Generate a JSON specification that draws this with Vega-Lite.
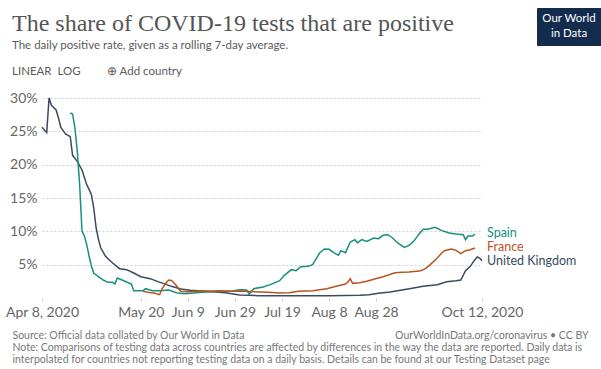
{
  "$schema": "https://vega.github.io/schema/vega-lite/v6.json",
  "width": 440,
  "height": 200,
  "autosize": {"type": "none"},
  "padding": {"left": 42, "top": 98, "right": 119, "bottom": 71},
  "background": "white",
  "title": {
    "text": "The share of COVID-19 tests that are positive",
    "subtitle": ["The daily positive rate, given as a rolling 7-day average.", "\u00a0\u00a0LINEAR\u00a0\u00a0LOG\u00a0\u00a0\u00a0\u00a0\u00a0\u00a0\u00a0\u00a0\u00a0⊕ Add country"],
    "anchor": "start",
    "frame": "group",
    "dx": -30,
    "dy": 84,
    "offset": 14,
    "font": "Liberation Serif",
    "fontSize": 24,
    "fontWeight": "normal",
    "color": "#555555",
    "subtitleFont": "Lato",
    "subtitleFontSize": 11.5,
    "subtitleColor": "#5b5b5b",
    "subtitlePadding": 4,
    "subtitleLineHeight": 26
  },
  "config": {
    "view": {"stroke": null},
    "font": "Lato"
  },
  "datasets": {
    "series": [
      {"country": "United Kingdom", "date": "2020-04-08", "value": 25.6},
      {"country": "United Kingdom", "date": "2020-04-10", "value": 24.8},
      {"country": "United Kingdom", "date": "2020-04-11", "value": 30.0},
      {"country": "United Kingdom", "date": "2020-04-12", "value": 28.9},
      {"country": "United Kingdom", "date": "2020-04-14", "value": 28.2},
      {"country": "United Kingdom", "date": "2020-04-15", "value": 27.0},
      {"country": "United Kingdom", "date": "2020-04-16", "value": 25.6},
      {"country": "United Kingdom", "date": "2020-04-18", "value": 24.6},
      {"country": "United Kingdom", "date": "2020-04-20", "value": 24.2},
      {"country": "United Kingdom", "date": "2020-04-21", "value": 21.4},
      {"country": "United Kingdom", "date": "2020-04-23", "value": 20.5},
      {"country": "United Kingdom", "date": "2020-04-25", "value": 19.2},
      {"country": "United Kingdom", "date": "2020-04-27", "value": 17.0},
      {"country": "United Kingdom", "date": "2020-04-28", "value": 16.3},
      {"country": "United Kingdom", "date": "2020-04-29", "value": 15.5},
      {"country": "United Kingdom", "date": "2020-04-30", "value": 13.5},
      {"country": "United Kingdom", "date": "2020-05-01", "value": 10.5},
      {"country": "United Kingdom", "date": "2020-05-02", "value": 8.8},
      {"country": "United Kingdom", "date": "2020-05-03", "value": 7.5},
      {"country": "United Kingdom", "date": "2020-05-05", "value": 6.25},
      {"country": "United Kingdom", "date": "2020-05-08", "value": 5.25},
      {"country": "United Kingdom", "date": "2020-05-11", "value": 4.4},
      {"country": "United Kingdom", "date": "2020-05-14", "value": 4.25},
      {"country": "United Kingdom", "date": "2020-05-17", "value": 3.75},
      {"country": "United Kingdom", "date": "2020-05-20", "value": 3.2},
      {"country": "United Kingdom", "date": "2020-05-24", "value": 2.9},
      {"country": "United Kingdom", "date": "2020-05-27", "value": 2.5},
      {"country": "United Kingdom", "date": "2020-05-31", "value": 2.0},
      {"country": "United Kingdom", "date": "2020-06-02", "value": 1.75},
      {"country": "United Kingdom", "date": "2020-06-06", "value": 1.35},
      {"country": "United Kingdom", "date": "2020-06-10", "value": 1.15},
      {"country": "United Kingdom", "date": "2020-06-17", "value": 1.0},
      {"country": "United Kingdom", "date": "2020-06-25", "value": 0.8},
      {"country": "United Kingdom", "date": "2020-07-01", "value": 0.45},
      {"country": "United Kingdom", "date": "2020-07-09", "value": 0.35},
      {"country": "United Kingdom", "date": "2020-07-27", "value": 0.35},
      {"country": "United Kingdom", "date": "2020-08-08", "value": 0.35},
      {"country": "United Kingdom", "date": "2020-08-21", "value": 0.4},
      {"country": "United Kingdom", "date": "2020-08-25", "value": 0.5},
      {"country": "United Kingdom", "date": "2020-08-29", "value": 0.7},
      {"country": "United Kingdom", "date": "2020-09-03", "value": 0.9},
      {"country": "United Kingdom", "date": "2020-09-08", "value": 1.2},
      {"country": "United Kingdom", "date": "2020-09-13", "value": 1.5},
      {"country": "United Kingdom", "date": "2020-09-17", "value": 1.75},
      {"country": "United Kingdom", "date": "2020-09-23", "value": 2.0},
      {"country": "United Kingdom", "date": "2020-09-27", "value": 2.45},
      {"country": "United Kingdom", "date": "2020-10-01", "value": 2.6},
      {"country": "United Kingdom", "date": "2020-10-03", "value": 2.7},
      {"country": "United Kingdom", "date": "2020-10-05", "value": 4.1},
      {"country": "United Kingdom", "date": "2020-10-07", "value": 4.75},
      {"country": "United Kingdom", "date": "2020-10-09", "value": 5.75},
      {"country": "United Kingdom", "date": "2020-10-10", "value": 6.15},
      {"country": "United Kingdom", "date": "2020-10-11", "value": 6.0},
      {"country": "United Kingdom", "date": "2020-10-12", "value": 5.6},
      {"country": "Spain", "date": "2020-04-20", "value": 27.75},
      {"country": "Spain", "date": "2020-04-21", "value": 27.6},
      {"country": "Spain", "date": "2020-04-22", "value": 25.5},
      {"country": "Spain", "date": "2020-04-23", "value": 22.0},
      {"country": "Spain", "date": "2020-04-24", "value": 17.0},
      {"country": "Spain", "date": "2020-04-25", "value": 10.0},
      {"country": "Spain", "date": "2020-04-26", "value": 9.3},
      {"country": "Spain", "date": "2020-04-27", "value": 8.0},
      {"country": "Spain", "date": "2020-04-28", "value": 6.3},
      {"country": "Spain", "date": "2020-04-29", "value": 4.8},
      {"country": "Spain", "date": "2020-04-30", "value": 3.7},
      {"country": "Spain", "date": "2020-05-02", "value": 3.2},
      {"country": "Spain", "date": "2020-05-04", "value": 2.7},
      {"country": "Spain", "date": "2020-05-06", "value": 2.35},
      {"country": "Spain", "date": "2020-05-08", "value": 2.35},
      {"country": "Spain", "date": "2020-05-09", "value": 2.1},
      {"country": "Spain", "date": "2020-05-10", "value": 3.0},
      {"country": "Spain", "date": "2020-05-12", "value": 2.7},
      {"country": "Spain", "date": "2020-05-14", "value": 2.4},
      {"country": "Spain", "date": "2020-05-16", "value": 2.1},
      {"country": "Spain", "date": "2020-05-17", "value": 1.1},
      {"country": "Spain", "date": "2020-05-21", "value": 1.1},
      {"country": "Spain", "date": "2020-05-22", "value": 1.4},
      {"country": "Spain", "date": "2020-05-25", "value": 1.1},
      {"country": "Spain", "date": "2020-05-28", "value": 1.1},
      {"country": "Spain", "date": "2020-06-01", "value": 1.2},
      {"country": "Spain", "date": "2020-06-04", "value": 0.8},
      {"country": "Spain", "date": "2020-06-08", "value": 0.65},
      {"country": "Spain", "date": "2020-06-11", "value": 0.75},
      {"country": "Spain", "date": "2020-06-17", "value": 0.9},
      {"country": "Spain", "date": "2020-06-23", "value": 1.0},
      {"country": "Spain", "date": "2020-06-28", "value": 1.05},
      {"country": "Spain", "date": "2020-07-01", "value": 1.25},
      {"country": "Spain", "date": "2020-07-04", "value": 1.2},
      {"country": "Spain", "date": "2020-07-05", "value": 0.6},
      {"country": "Spain", "date": "2020-07-07", "value": 1.4},
      {"country": "Spain", "date": "2020-07-11", "value": 1.65},
      {"country": "Spain", "date": "2020-07-14", "value": 2.0},
      {"country": "Spain", "date": "2020-07-18", "value": 2.6},
      {"country": "Spain", "date": "2020-07-20", "value": 3.4},
      {"country": "Spain", "date": "2020-07-23", "value": 4.25},
      {"country": "Spain", "date": "2020-07-25", "value": 4.1},
      {"country": "Spain", "date": "2020-07-27", "value": 4.7},
      {"country": "Spain", "date": "2020-07-30", "value": 4.75},
      {"country": "Spain", "date": "2020-08-01", "value": 5.0},
      {"country": "Spain", "date": "2020-08-04", "value": 6.75},
      {"country": "Spain", "date": "2020-08-06", "value": 7.35},
      {"country": "Spain", "date": "2020-08-08", "value": 7.3},
      {"country": "Spain", "date": "2020-08-10", "value": 6.8},
      {"country": "Spain", "date": "2020-08-12", "value": 6.4},
      {"country": "Spain", "date": "2020-08-13", "value": 7.1},
      {"country": "Spain", "date": "2020-08-15", "value": 6.8},
      {"country": "Spain", "date": "2020-08-17", "value": 8.4},
      {"country": "Spain", "date": "2020-08-19", "value": 8.75},
      {"country": "Spain", "date": "2020-08-20", "value": 8.3},
      {"country": "Spain", "date": "2020-08-22", "value": 8.75},
      {"country": "Spain", "date": "2020-08-24", "value": 8.5},
      {"country": "Spain", "date": "2020-08-27", "value": 9.0},
      {"country": "Spain", "date": "2020-08-29", "value": 8.9},
      {"country": "Spain", "date": "2020-08-31", "value": 9.4},
      {"country": "Spain", "date": "2020-09-02", "value": 9.5},
      {"country": "Spain", "date": "2020-09-04", "value": 9.0},
      {"country": "Spain", "date": "2020-09-06", "value": 8.3},
      {"country": "Spain", "date": "2020-09-09", "value": 7.6},
      {"country": "Spain", "date": "2020-09-11", "value": 7.9},
      {"country": "Spain", "date": "2020-09-13", "value": 8.5},
      {"country": "Spain", "date": "2020-09-15", "value": 9.5},
      {"country": "Spain", "date": "2020-09-17", "value": 10.3},
      {"country": "Spain", "date": "2020-09-19", "value": 10.3},
      {"country": "Spain", "date": "2020-09-22", "value": 10.6},
      {"country": "Spain", "date": "2020-09-25", "value": 10.1},
      {"country": "Spain", "date": "2020-09-28", "value": 9.75},
      {"country": "Spain", "date": "2020-10-01", "value": 9.6},
      {"country": "Spain", "date": "2020-10-04", "value": 9.5},
      {"country": "Spain", "date": "2020-10-05", "value": 8.75},
      {"country": "Spain", "date": "2020-10-06", "value": 9.3},
      {"country": "Spain", "date": "2020-10-08", "value": 9.3},
      {"country": "Spain", "date": "2020-10-09", "value": 9.6},
      {"country": "France", "date": "2020-05-21", "value": 1.0},
      {"country": "France", "date": "2020-05-23", "value": 0.85},
      {"country": "France", "date": "2020-05-26", "value": 0.7},
      {"country": "France", "date": "2020-05-28", "value": 0.5},
      {"country": "France", "date": "2020-05-29", "value": 1.35},
      {"country": "France", "date": "2020-05-30", "value": 1.9},
      {"country": "France", "date": "2020-05-31", "value": 2.4},
      {"country": "France", "date": "2020-06-01", "value": 2.7},
      {"country": "France", "date": "2020-06-02", "value": 2.65},
      {"country": "France", "date": "2020-06-03", "value": 2.3},
      {"country": "France", "date": "2020-06-04", "value": 1.9},
      {"country": "France", "date": "2020-06-05", "value": 1.4},
      {"country": "France", "date": "2020-06-06", "value": 1.0},
      {"country": "France", "date": "2020-06-09", "value": 0.95},
      {"country": "France", "date": "2020-06-13", "value": 1.05},
      {"country": "France", "date": "2020-06-17", "value": 1.0},
      {"country": "France", "date": "2020-06-22", "value": 1.1},
      {"country": "France", "date": "2020-06-27", "value": 1.0},
      {"country": "France", "date": "2020-07-02", "value": 1.05},
      {"country": "France", "date": "2020-07-07", "value": 0.95},
      {"country": "France", "date": "2020-07-13", "value": 0.85},
      {"country": "France", "date": "2020-07-18", "value": 0.75},
      {"country": "France", "date": "2020-07-22", "value": 0.8},
      {"country": "France", "date": "2020-07-26", "value": 1.0},
      {"country": "France", "date": "2020-08-01", "value": 1.1},
      {"country": "France", "date": "2020-08-07", "value": 1.4},
      {"country": "France", "date": "2020-08-11", "value": 1.75},
      {"country": "France", "date": "2020-08-15", "value": 2.1},
      {"country": "France", "date": "2020-08-16", "value": 2.4},
      {"country": "France", "date": "2020-08-17", "value": 2.9},
      {"country": "France", "date": "2020-08-18", "value": 2.2},
      {"country": "France", "date": "2020-08-21", "value": 2.3},
      {"country": "France", "date": "2020-08-24", "value": 2.5},
      {"country": "France", "date": "2020-08-27", "value": 2.8},
      {"country": "France", "date": "2020-08-31", "value": 3.2},
      {"country": "France", "date": "2020-09-05", "value": 3.8},
      {"country": "France", "date": "2020-09-08", "value": 3.85},
      {"country": "France", "date": "2020-09-11", "value": 3.9},
      {"country": "France", "date": "2020-09-16", "value": 4.1},
      {"country": "France", "date": "2020-09-18", "value": 4.4},
      {"country": "France", "date": "2020-09-20", "value": 5.0},
      {"country": "France", "date": "2020-09-23", "value": 6.0},
      {"country": "France", "date": "2020-09-25", "value": 6.8},
      {"country": "France", "date": "2020-09-26", "value": 7.1},
      {"country": "France", "date": "2020-09-29", "value": 7.35},
      {"country": "France", "date": "2020-10-01", "value": 7.15},
      {"country": "France", "date": "2020-10-03", "value": 6.65},
      {"country": "France", "date": "2020-10-05", "value": 7.1},
      {"country": "France", "date": "2020-10-07", "value": 7.25},
      {"country": "France", "date": "2020-10-09", "value": 7.5}
    ],
    "labels": [
      {"country": "Spain", "date": "2020-10-12", "value": 9.8},
      {"country": "France", "date": "2020-10-12", "value": 7.7},
      {"country": "United Kingdom", "date": "2020-10-12", "value": 5.6}
    ]
  },
  "layer": [
    {
      "data": {"name": "series"},
      "mark": {"type": "line", "strokeWidth": 1.5, "interpolate": "linear"},
      "encoding": {
        "x": {
          "field": "date",
          "type": "temporal",
          "scale": {
            "type": "utc",
            "domain": [
              {"year": 2020, "month": 4, "date": 8, "utc": true},
              {"year": 2020, "month": 10, "date": 12, "utc": true}
            ]
          },
          "axis": {
            "values": [
              {"year": 2020, "month": 4, "date": 8, "utc": true},
              {"year": 2020, "month": 5, "date": 20, "utc": true},
              {"year": 2020, "month": 6, "date": 9, "utc": true},
              {"year": 2020, "month": 6, "date": 29, "utc": true},
              {"year": 2020, "month": 7, "date": 19, "utc": true},
              {"year": 2020, "month": 8, "date": 8, "utc": true},
              {"year": 2020, "month": 8, "date": 28, "utc": true},
              {"year": 2020, "month": 10, "date": 12, "utc": true}
            ],
            "labelExpr": "(utcmonth(datum.value) == 3 || utcmonth(datum.value) == 9) ? utcFormat(datum.value, '%b %-d, %Y') : utcFormat(datum.value, '%b %-d')",
            "labelOverlap": false,
            "labelFlush": false,
            "labelFont": "Lato",
            "labelFontSize": 14,
            "labelColor": "#666666",
            "labelPadding": 4,
            "domain": false,
            "grid": false,
            "ticks": true,
            "tickSize": 3,
            "tickColor": "#cccccc",
            "title": [
              "Source: Official data collated by Our World in Data",
              "Note: Comparisons of testing data across countries are affected by differences in the way the data are reported. Daily data is",
              "interpolated for countries not reporting testing data on a daily basis. Details can be found at our Testing Dataset page"
            ],
            "titleFont": "Lato",
            "titleFontSize": 10.5,
            "titleFontWeight": "normal",
            "titleColor": "#777777",
            "titleAnchor": "start",
            "titleAlign": "left",
            "titleBaseline": "alphabetic",
            "titleLineHeight": 12,
            "titleX": -30,
            "titleY": 40
          }
        },
        "y": {
          "field": "value",
          "type": "quantitative",
          "scale": {"domain": [0, 30], "nice": false, "zero": true},
          "axis": {
            "tickCount": 6,
            "labelExpr": "datum.value == 0 ? '' : datum.label + '%'",
            "labelOverlap": false,
            "labelFont": "Lato",
            "labelFontSize": 14,
            "labelColor": "#666666",
            "labelPadding": 5,
            "ticks": false,
            "domain": false,
            "grid": true,
            "gridColor": "#cfcfcf",
            "gridOpacity": {"condition": {"test": "datum.value == 0", "value": 0}, "value": 1},
            "gridWidth": 1,
            "gridDash": [2, 2],
            "title": "OurWorldInData.org/coronavirus • CC BY",
            "titleFont": "Lato",
            "titleFontSize": 10.5,
            "titleFontWeight": "normal",
            "titleColor": "#777777",
            "titleAngle": 0,
            "titleAlign": "right",
            "titleBaseline": "alphabetic",
            "titleX": 546,
            "titleY": 240
          }
        },
        "color": {
          "field": "country",
          "type": "nominal",
          "scale": {
            "domain": ["Spain", "France", "United Kingdom"],
            "range": ["#18907e", "#b8531f", "#3b4a5e"]
          },
          "legend": null
        },
        "detail": {"field": "country"}
      }
    },
    {
      "data": {"name": "labels"},
      "mark": {"type": "text", "align": "left", "baseline": "middle", "dx": 5, "font": "Lato", "fontSize": 12.5},
      "encoding": {
        "x": {"field": "date", "type": "temporal"},
        "y": {"field": "value", "type": "quantitative"},
        "text": {"field": "country"},
        "color": {"field": "country", "type": "nominal", "legend": null},
        "opacity": {
          "datum": "logo",
          "type": "ordinal",
          "scale": {"type": "ordinal", "domain": ["logo"], "range": [1]},
          "legend": {
            "orient": "none",
            "legendX": 495,
            "legendY": -90,
            "title": ["Our World", "in Data"],
            "titleFont": "Lato",
            "titleFontSize": 11.5,
            "titleFontWeight": "normal",
            "titleColor": "#ffffff",
            "titleAlign": "center",
            "titleAnchor": "middle",
            "titleLineHeight": 15,
            "titlePadding": 0,
            "labelExpr": "''",
            "labelFontSize": 1,
            "symbolSize": 0,
            "symbolOpacity": 0,
            "symbolStrokeWidth": 0,
            "fillColor": "#132c4e",
            "strokeColor": "#132c4e",
            "padding": 5
          }
        }
      }
    }
  ]
}
